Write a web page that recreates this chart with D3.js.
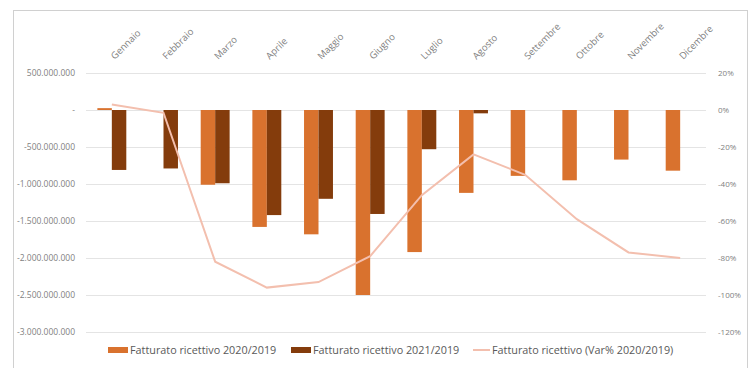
<!DOCTYPE html>
<html>
<head>
<meta charset="utf-8">
<script src="https://cdn.jsdelivr.net/npm/d3@7"></script>
<style>
  html, body { margin: 0; padding: 0; background: #fff; }
  svg { display: block; }
  text { font-family: "Open Sans", "Liberation Sans", sans-serif; }
</style>
</head>
<body>
<svg id="chart" width="752" height="368"></svg>
<script>
const months = ["Gennaio","Febbraio","Marzo","Aprile","Maggio","Giugno","Luglio","Agosto","Settembre","Ottobre","Novembre","Dicembre"];
const fatt2020 = [25e6, 0, -1010e6, -1580e6, -1680e6, -2500e6, -1920e6, -1120e6, -890e6, -950e6, -670e6, -820e6];
const fatt2021 = [-810e6, -790e6, -990e6, -1420e6, -1200e6, -1405e6, -530e6, -45e6, null, null, null, null];
const varPct = [3, -1.5, -82, -96, -93, -79, -46, -24, -35, -59, -77, -80];
const leftTicks = [500e6, 0, -500e6, -1000e6, -1500e6, -2000e6, -2500e6, -3000e6];
const rightTicks = [20, 0, -20, -40, -60, -80, -100, -120];
const seriesNames = ["Fatturato ricettivo 2020/2019", "Fatturato ricettivo 2021/2019", "Fatturato ricettivo (Var% 2020/2019)"];
const colors = ["#D9722E", "#843C0C", "#F3BFAE"];

const svg = d3.select("#chart");
const plot = {left: 86, right: 706, top: 73, bottom: 332};

// border
svg.append("rect").attr("x", 13.5).attr("y", 10.5).attr("width", 734).attr("height", 370)
  .attr("fill", "#fff").attr("stroke", "#D0D0D0").attr("stroke-width", 1);

const x = d3.scaleBand().domain(months).range([plot.left, plot.right]).paddingInner(0).paddingOuter(0);
const groupW = x.bandwidth() * 0.56;
const x1 = d3.scaleBand().domain([0, 1]).range([-groupW / 2, groupW / 2]);
const yL = d3.scaleLinear().domain([-3000e6, 500e6]).range([plot.bottom, plot.top]);
const yR = d3.scaleLinear().domain([-120, 20]).range([plot.bottom, plot.top]);

const loc = d3.formatLocale({decimal: ",", thousands: ".", grouping: [3], currency: ["€", ""], minus: "-"});
const fmtL = v => v === 0 ? "-" : loc.format(",.0f")(v);
const fmtR = v => v + "%";

// gridlines
svg.append("g").selectAll("line").data(leftTicks).join("line")
  .attr("x1", plot.left).attr("x2", plot.right)
  .attr("y1", d => Math.round(yL(d)) + 0.5).attr("y2", d => Math.round(yL(d)) + 0.5)
  .attr("stroke", "#E4E4E4").attr("stroke-width", 1);

// left axis
const axL = svg.append("g").attr("transform", `translate(${plot.left - 11},0)`)
  .call(d3.axisLeft(yL).tickValues(leftTicks).tickFormat(fmtL).tickSize(0).tickPadding(0));
axL.select(".domain").remove();
axL.selectAll("text").attr("fill", "#7F7F7F").style("font-size", "8.5px");

// right axis
const axR = svg.append("g").attr("transform", `translate(${plot.right + 12},0)`)
  .call(d3.axisRight(yR).tickValues(rightTicks).tickFormat(fmtR).tickSize(0).tickPadding(0));
axR.select(".domain").remove();
axR.selectAll("text").attr("fill", "#7F7F7F").style("font-size", "8px");

// bars
const barsData = [];
months.forEach((m, i) => {
  [fatt2020[i], fatt2021[i]].forEach((v, s) => {
    if (v !== null && v !== 0) barsData.push({m, s, v});
  });
});
svg.append("g").selectAll("rect").data(barsData).join("rect")
  .attr("x", d => x(d.m) + x.bandwidth() / 2 + x1(d.s))
  .attr("width", x1.bandwidth())
  .attr("y", d => Math.min(yL(d.v), yL(0)))
  .attr("height", d => Math.abs(yL(d.v) - yL(0)))
  .attr("fill", d => colors[d.s]);

// line
const line = d3.line().x((d, i) => x(months[i]) + x.bandwidth() / 2).y(d => yR(d));
svg.append("path").datum(varPct).attr("d", line)
  .attr("fill", "none").attr("stroke", colors[2]).attr("stroke-width", 2);

// month labels (top, rotated)
svg.append("g").selectAll("text").data(months).join("text")
  .attr("transform", d => `translate(${x(d) + x.bandwidth() / 2 + 3},60) rotate(-45)`)
  .attr("text-anchor", "start")
  .attr("fill", "#7F7F7F").style("font-size", "9.5px")
  .text(d => d);

// legend
const legend = svg.append("g");
const legItems = [
  {x: 108, type: "rect"},
  {x: 291, type: "rect"},
  {x: 473, type: "line"}
];
legItems.forEach((it, i) => {
  const g = legend.append("g").attr("transform", `translate(${it.x},350)`);
  if (it.type === "rect") {
    g.append("rect").attr("x", 0).attr("y", -3).attr("width", 20).attr("height", 6).attr("fill", colors[i]);
  } else {
    g.append("line").attr("x1", 0).attr("x2", 17).attr("y1", 0).attr("y2", 0)
      .attr("stroke", colors[i]).attr("stroke-width", 2);
  }
  g.append("text").attr("x", it.type === "rect" ? 22 : 19).attr("y", 3.5)
    .attr("fill", "#595959").style("font-size", "10.8px").text(seriesNames[i]);
});
</script>
</body>
</html>
